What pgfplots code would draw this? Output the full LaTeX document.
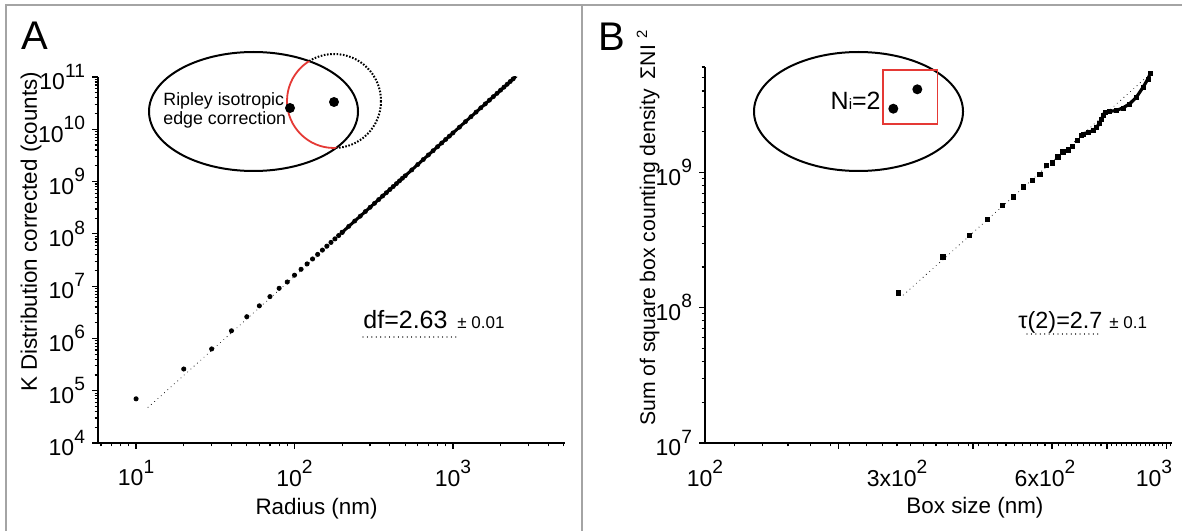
\documentclass[border=0pt]{standalone}
\usepackage{fontspec}
\setmainfont{Liberation Sans}
\usepackage{pgfplots}
\usepackage{pgfplotstable}
\pgfplotsset{compat=1.18}
\definecolor{redc}{HTML}{E53935}
\definecolor{framec}{HTML}{A4A4A4}
\newcommand{\ee}[1]{10\raisebox{6.3pt}{\fontsize{9.6}{10}\selectfont #1}}
\tikzset{fitline/.style={black!80, line width=0.6pt, line cap=round, dash pattern=on 0.01pt off 2.2pt}}

% panel A: K distribution, radius (nm) vs counts
\pgfplotstableread{
r K
10 7.0e4
20 2.6e5
30 6.3e5
40 1.4e6
50 2.6e6
60 4.2e6
70 6.3e6
80 9.1e6
90 1.2e7
100 1.62e7
110 2.10e7
120 2.66e7
130 3.31e7
140 4.05e7
150 4.89e7
160 5.82e7
170 6.87e7
180 8.02e7
190 9.29e7
200 1.07e8
}\kearly
\pgfplotstableread{
r K
200 1.07e8
220 1.39e8
240 1.76e8
260 2.18e8
280 2.67e8
300 3.22e8
320 3.84e8
340 4.52e8
360 5.29e8
380 6.12e8
400 7.04e8
420 8.04e8
440 9.13e8
460 1.03e9
480 1.16e9
500 1.29e9
550 1.67e9
600 2.12e9
650 2.64e9
700 3.23e9
750 3.89e9
800 4.64e9
850 5.47e9
900 6.39e9
950 7.40e9
1000 8.51e9
1100 1.10e10
1200 1.40e10
1300 1.74e10
1400 2.13e10
1500 2.57e10
1600 3.06e10
1700 3.61e10
1800 4.21e10
1900 4.88e10
2000 5.61e10
2100 6.40e10
2200 7.27e10
2300 8.20e10
2400 9.21e10
2500 1.03e11
}\klate

% panel B: box counting, box size (nm) vs sum of squares
\pgfplotstableread{
s N
302 1.285e8
372 2.37e8
421 3.43e8
458 4.48e8
491 5.71e8
517 6.58e8
542 7.80e8
565 8.74e8
586 9.67e8
604 1.127e9
622 1.172e9
638 1.298e9
653 1.413e9
669 1.47e9
682 1.556e9
698 1.723e9
712 1.876e9
}\bearly
\pgfplotstableread{
s N
712 1.876e9
718 1.93e9
735 1.97e9
752 2.04e9
764 2.14e9
773 2.29e9
782 2.49e9
788 2.63e9
794 2.79e9
812 2.82e9
839 2.87e9
865 3.00e9
892 3.21e9
921 3.60e9
950 4.26e9
972 4.91e9
983 5.41e9
}\blate

\begin{document}
\begin{tikzpicture}
\useasboundingbox (0,0) rectangle (591pt,265.5pt);

\begin{axis}[
  scale only axis, xmode=log, ymode=log,
  axis lines=left, axis line style={-, line width=1pt},
  tick align=outside, major tick length=3pt, minor tick length=1.7pt,
  every tick/.style={black, line width=0.6pt},
  tick label style={font=\fontsize{11.5}{12}\selectfont},
  xticklabel style={yshift=-2pt},
  label style={font=\fontsize{11.2}{12}\selectfont},
  at={(49pt,44pt)}, anchor=south west, width=233.5pt, height=183pt,
  xmin=5.75, xmax=5100, ymin=1e4, ymax=1e11,
  xtick={10,100,1000}, xticklabels={\ee{1},\ee{2},\ee{3}},
  minor xtick={6,7,8,9,20,30,40,50,60,70,80,90,200,300,400,500,600,700,800,900,2000,3000,4000,5000},
  ytick={1e4,1e5,1e6,1e7,1e8,1e9,1e10,1e11},
  yticklabels={\ee{4},\ee{5},\ee{6},\ee{7},\ee{8},\ee{9},\ee{10},\ee{11}},
  minor ytick={2e4,3e4,4e4,5e4,6e4,7e4,8e4,9e4,2e5,3e5,4e5,5e5,6e5,7e5,8e5,9e5,
    2e6,3e6,4e6,5e6,6e6,7e6,8e6,9e6,2e7,3e7,4e7,5e7,6e7,7e7,8e7,9e7,
    2e8,3e8,4e8,5e8,6e8,7e8,8e8,9e8,2e9,3e9,4e9,5e9,6e9,7e9,8e9,9e9,
    2e10,3e10,4e10,5e10,6e10,7e10,8e10,9e10},
  xlabel={Radius (nm)}, ylabel={K Distribution corrected (counts)},
  xlabel style={at={(axis description cs:0.468,-0.18)}, anchor=center},
  ylabel style={at={(axis description cs:-0.1435,0.5765)}, anchor=center},
]
\addplot[fitline, mark=none] coordinates {(11.9,4.8e4) (2670,1.15e11)};
\addplot[only marks, mark=*, mark size=1.05pt, black] table[x=r,y=K] {\kearly};
\addplot[black, line width=1.5pt, mark=*, mark size=1.1pt, mark options={line width=0.2pt}] table[x=r,y=K] {\klate};
\end{axis}

\begin{axis}[
  scale only axis, xmode=log, ymode=log,
  axis lines=left, axis line style={-, line width=1pt},
  tick align=outside, major tick length=3pt, minor tick length=1.7pt,
  every tick/.style={black, line width=0.6pt},
  tick label style={font=\fontsize{11.5}{12}\selectfont},
  xticklabel style={yshift=-5pt},
  label style={font=\fontsize{11.2}{12}\selectfont},
  at={(352.5pt,44pt)}, anchor=south west, width=233.5pt, height=188pt,
  xmin=122, xmax=1088, ymin=1e7, ymax=6.01e9,
  xtick={228,428,620,802,1061}, xticklabels={,,,,},
  minor xtick={140,160,...,1080},
  extra x ticks={122,300,600,1000},
  extra x tick labels={\ee{2},3x\ee{2},6x\ee{2},\ee{3}},
  extra x tick style={major tick length=0pt},
  ytick={1e7,1e8,1e9}, yticklabels={\ee{7},\ee{8},\ee{9}},
  minor ytick={2e7,3e7,4e7,5e7,6e7,7e7,8e7,9e7,2e8,3e8,4e8,5e8,6e8,7e8,8e8,9e8,
    2e9,3e9,4e9,5e9,6e9},
  xlabel={Box size (nm)},
  ylabel={Sum of square box counting density\hspace{0.45em}ΣNI\hspace{0.3em}\textsuperscript{2}},
  xlabel style={at={(axis description cs:0.578,-0.173)}, anchor=center},
  ylabel style={at={(axis description cs:-0.122,0.0266)}, anchor=west, font=\fontsize{10.6}{12}\selectfont},
]
\addplot[fitline, mark=none] coordinates {(309,1.24e8) (965,5.05e9)};
\addplot[only marks, mark=square*, mark size=1.1pt, black] table[x=s,y=N] {\bearly};
\addplot[black, line width=1.6pt, mark=square*, mark size=1.0pt, mark options={line width=0.2pt}] table[x=s,y=N] {\blate};
\end{axis}

% frame, panel letters, insets and annotations (pixel coordinates)
\begin{scope}[yshift=265.5pt, x=0.5pt, y=-0.5pt]
\draw[framec, line width=0.75pt] (6,531) -- (6,5) -- (1182,5);
\draw[framec, line width=0.75pt] (582,5) -- (582,531);
\node[font=\fontsize{20}{22}\selectfont, inner sep=0] at (35,36) {A};
\node[font=\fontsize{20}{22}\selectfont, inner sep=0] at (612,37) {B};

% Ripley inset
\draw[black, line width=1pt, dash pattern=on 0.8pt off 0.8pt] (334,101) circle [radius=47];
\fill[white] (253.5,111.5) ellipse [x radius=104.5, y radius=59.5];
\draw[black, line width=1pt] (253.5,111.5) ellipse [x radius=104.5, y radius=59.5];
\begin{scope}
\clip (253.5,111.5) ellipse [x radius=104.5, y radius=59.5];
\draw[redc, line width=0.9pt] (334,101) circle [radius=47];
\end{scope}
\fill (290,108) circle [radius=5];
\fill (334,102) circle [radius=5];
\node[anchor=west, align=left, inner sep=0, font=\fontsize{8.9}{9.6}\selectfont] at (163,110) {Ripley isotropic\\edge correction};

% box counting inset
\draw[black, line width=1pt] (858.5,111.5) ellipse [x radius=104.5, y radius=59.5];
\draw[redc, line width=0.8pt] (882.7,70) rectangle (937.3,124);
\fill (893.3,108.7) circle [radius=5];
\fill (917.3,89.3) circle [radius=5];
\node[anchor=base east, inner sep=0] at (881,110) {\fontsize{12.5}{14}\selectfont N{\fontsize{7.5}{8}\selectfont i}=2};

% fit annotations
\node[anchor=base west, inner sep=0, font=\fontsize{12.5}{14}\selectfont] at (363,328) {df=2.63};
\node[anchor=base west, inner sep=0, font=\fontsize{8.5}{9}\selectfont] at (457,328) {± 0.01};
\draw[fitline] (363,337) -- (456,337);
\node[anchor=base west, inner sep=0, font=\fontsize{11.7}{13}\selectfont] at (1018,328) {τ(2)=2.7};
\node[anchor=base west, inner sep=0, font=\fontsize{8.5}{9}\selectfont] at (1109,328) {± 0.1};
\draw[fitline] (1027,334) -- (1101,334);
\end{scope}
\end{tikzpicture}
\end{document}
